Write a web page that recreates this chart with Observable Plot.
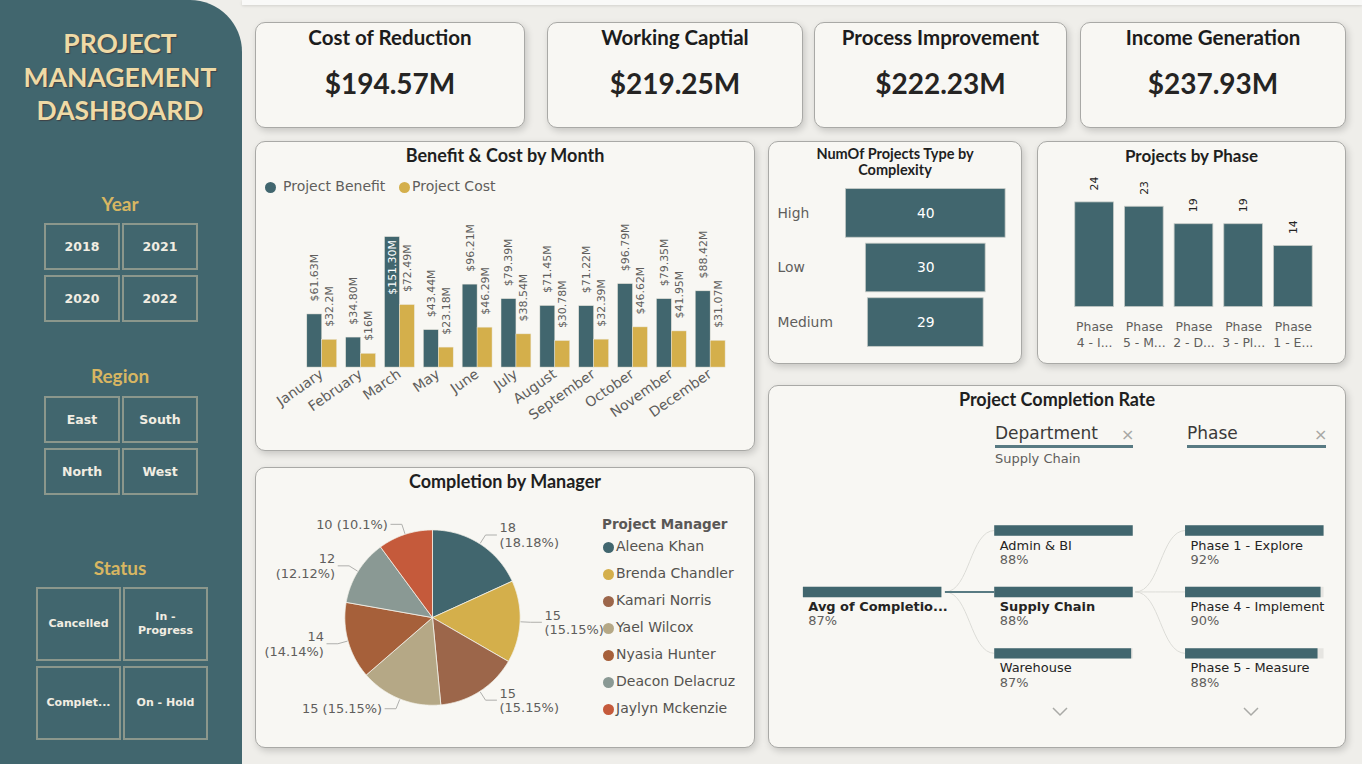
<!DOCTYPE html>
<html>
<head>
<meta charset="utf-8">
<script src="https://cdn.jsdelivr.net/npm/d3@7"></script>
<script src="https://cdn.jsdelivr.net/npm/@observablehq/plot@0.6"></script>
<style>
  body{margin:0;width:1362px;height:764px;overflow:hidden;background:#efeeea;position:relative;font-family:"DejaVu Sans",sans-serif;}
  .a{position:absolute;}
  #side{left:0;top:0;width:242px;height:764px;background:#41666e;border-top-right-radius:52px;}
  #topstrip{left:242px;top:0;width:1120px;height:5px;background:#f9f9f8;box-shadow:0 1px 3px rgba(0,0,0,.12);}
  #sideTitle{left:0;top:27px;width:240px;text-align:center;font-family:Lato,sans-serif;font-weight:700;font-size:26.5px;line-height:33.5px;color:#efdaa6;text-shadow:1px 1px 1px rgba(60,20,20,.45);}
  .head{width:240px;left:0;text-align:center;font-family:Lato,sans-serif;font-weight:700;font-size:19px;line-height:24px;color:#d8b662;}
  .btn{box-sizing:border-box;border:2px solid #8b978c;display:flex;align-items:center;justify-content:center;text-align:center;font-family:"DejaVu Sans",sans-serif;font-weight:700;color:#f1ede2;white-space:pre-line;}
  .card{position:absolute;box-sizing:border-box;background:#f8f7f3;border:1px solid #a9a9a6;border-radius:10px;box-shadow:2px 3px 7px rgba(0,0,0,.17);}
  .card svg{position:absolute;left:-1px;top:-1px;}
  .kt{position:absolute;left:0;right:0;text-align:center;font-family:Lato,sans-serif;font-weight:700;color:#1c1c1c;}
  .ct{position:absolute;left:0;right:0;text-align:center;font-family:Lato,sans-serif;font-weight:700;color:#1f1f1f;z-index:2;}
  .lg{font-family:"DejaVu Sans",sans-serif;font-size:14px;color:#605e5c;white-space:nowrap;}
  .dot{position:absolute;border-radius:50%;}
</style>
</head>
<body>
<div id="side" class="a"></div>
<div id="topstrip" class="a"></div>
<div id="sideTitle" class="a">PROJECT<br>MANAGEMENT<br>DASHBOARD</div>
<div id="root"></div>
<script>
// ---- slicer items ----
const years = ["2018", "2021", "2020", "2022"];
const regions = ["East", "South", "North", "West"];
const statuses = ["Cancelled", "In -\nProgress", "Complet...", "On - Hold"];

// ---- KPI cards ----
const kpiNames = ["Cost of Reduction", "Working Captial", "Process Improvement", "Income Generation"];
const kpiValues = [194.57, 219.25, 222.23, 237.93];

// ---- benefit & cost by month ($M) ----
const months = ["January", "February", "March", "May", "June", "July", "August", "September", "October", "November", "December"];
const projectBenefit = [61.63, 34.80, 151.30, 43.44, 96.21, 79.39, 71.45, 71.22, 96.79, 79.35, 88.42];
const projectCost = [32.2, 16, 72.49, 23.18, 46.29, 38.54, 30.78, 32.39, 46.62, 41.95, 31.07];
const seriesNames = ["Project Benefit", "Project Cost"];

// ---- projects by complexity ----
const complexityLevels = ["High", "Low", "Medium"];
const complexityCounts = [40, 30, 29];

// ---- projects by phase ----
const phaseTicks = ["Phase\n4 - I...", "Phase\n5 - M...", "Phase\n2 - D...", "Phase\n3 - Pl...", "Phase\n1 - E..."];
const phaseCounts = [24, 23, 19, 19, 14];

// ---- completion by manager ----
const managers = ["Aleena Khan", "Brenda Chandler", "Kamari Norris", "Yael Wilcox", "Nyasia Hunter", "Deacon Delacruz", "Jaylyn Mckenzie"];
const completions = [18, 15, 15, 15, 14, 12, 10];

// ---- completion rate tree (%) ----
const rootLabel = "Avg of Completio...";
const avgRate = 87;
const selectedDept = "Supply Chain";
const deptNames = ["Admin & BI", "Supply Chain", "Warehouse"];
const deptRates = [88, 88, 87];
const phaseNames = ["Phase 1 - Explore", "Phase 4 - Implement", "Phase 5 - Measure"];
const phaseRates = [92, 90, 88];

const teal = "#41666e", gold = "#d4af4b", grey = "#605e5c";
const managerColors = ["#41666e", "#d4af4b", "#9c664a", "#b5a886", "#a6603a", "#8a9994", "#c55a3b"];
const root = document.getElementById("root");

function el(tag, cls, css, html) {
  const e = document.createElement(tag);
  if (cls) e.className = cls;
  Object.assign(e.style, css || {});
  if (html != null) e.innerHTML = html;
  return e;
}

// ---- sidebar slicers ----
function slicer(title, items, headY, left, top, w, h, fs) {
  document.body.appendChild(el("div", "a head", {top: (headY - 12) + "px"}, title));
  items.forEach((t, i) => {
    const b = el("div", "a btn", {
      left: (left + (i % 2) * (w + 2)) + "px", top: (top + Math.floor(i / 2) * (h + 5)) + "px",
      width: w + "px", height: h + "px", fontSize: fs + "px", lineHeight: "14px"
    });
    b.textContent = t;
    document.body.appendChild(b);
  });
}
slicer("Year", years, 204, 44, 223, 76, 47, 12.5);
slicer("Region", regions, 376, 44, 396, 76, 47, 12.5);
slicer("Status", statuses, 568, 36, 587, 85, 74, 11);

// ---- KPI cards ----
const kpiBoxes = [[255, 270], [547, 256], [814, 253], [1080, 266]];
kpiNames.forEach((n, i) => {
  const c = el("div", "card", {left: kpiBoxes[i][0] + "px", top: "22px", width: kpiBoxes[i][1] + "px", height: "106px"});
  c.appendChild(el("div", "kt", {top: "2px", fontSize: "20.5px", lineHeight: "25px"}, n));
  c.appendChild(el("div", "kt", {top: "43px", fontSize: "28px", lineHeight: "34px", color: "#252423"}, "$" + kpiValues[i].toFixed(2) + "M"));
  root.appendChild(c);
});

function card(left, top, w, h) {
  const c = el("div", "card", {left: left + "px", top: top + "px", width: w + "px", height: h + "px"});
  root.appendChild(c);
  return c;
}

// ---- Benefit & Cost by Month ----
{
  const c = card(255, 141, 500, 310);
  c.appendChild(el("div", "ct", {top: "1px", fontSize: "18px", lineHeight: "25px"}, "Benefit &amp; Cost by Month"));
  c.appendChild(el("div", "dot", {left: "9px", top: "40px", width: "11px", height: "11px", background: teal}));
  c.appendChild(el("div", "a lg", {left: "27px", top: "36px"}, seriesNames[0]));
  c.appendChild(el("div", "dot", {left: "143px", top: "40px", width: "11px", height: "11px", background: gold}));
  c.appendChild(el("div", "a lg", {left: "156px", top: "36px"}, seriesNames[1]));

  const rows = months.flatMap((m, i) => [
    {month: m, series: seriesNames[0], value: projectBenefit[i], label: "$" + projectBenefit[i].toFixed(2) + "M"},
    {month: m, series: seriesNames[1], value: projectCost[i], label: "$" + projectCost[i] + "M"}
  ]);
  const yMax = d3.max(projectBenefit);
  const inside = d => d.value / yMax > 0.8;
  c.appendChild(Plot.plot({
    width: 500, height: 310, marginLeft: 42, marginRight: 18, marginTop: 96, marginBottom: 83,
    style: {background: "transparent", fontFamily: "DejaVu Sans", fontSize: "14px", color: grey, overflow: "visible"},
    fx: {domain: months, paddingInner: 0.2, paddingOuter: 0.2, label: null, axis: "bottom", tickRotate: -35, tickSize: 0, tickPadding: 5},
    x: {domain: seriesNames, padding: 0, axis: null},
    y: {domain: [0, yMax], axis: null},
    color: {domain: seriesNames, range: [teal, gold]},
    marks: [
      Plot.barY(rows, {fx: "month", x: "series", y: "value", fill: "series", stroke: "#e9e6dc", strokeWidth: 0.5}),
      Plot.text(rows.filter(d => !inside(d)), {fx: "month", x: "series", y: "value", text: "label", rotate: -90, textAnchor: "start", dy: -13, fill: grey, fontSize: 11}),
      Plot.text(rows.filter(inside), {fx: "month", x: "series", y: "value", text: "label", rotate: -90, textAnchor: "end", dy: 3, fill: "white", fontSize: 11})
    ]
  }));
}

// ---- NumOf Projects Type by Complexity ----
{
  const c = card(768, 141, 254, 223);
  c.appendChild(el("div", "ct", {top: "4px", fontSize: "14.5px", lineHeight: "16px"}, "NumOf Projects Type by<br>Complexity"));
  const rows = complexityLevels.map((l, i) => ({level: l, count: complexityCounts[i]}));
  c.appendChild(Plot.plot({
    width: 254, height: 223, marginLeft: 78, marginRight: 15, marginTop: 44, marginBottom: 12,
    style: {background: "transparent", fontFamily: "DejaVu Sans", fontSize: "14px", color: grey, overflow: "visible"},
    x: {domain: [-20, 20], axis: null},
    y: {domain: complexityLevels, paddingInner: 0.108, paddingOuter: 0.05, axis: null},
    marks: [
      Plot.barX(rows, {y: "level", x1: d => -d.count / 2, x2: d => d.count / 2, fill: teal, stroke: "#c6cbc7", strokeWidth: 0.8}),
      Plot.text(rows, {y: "level", x: 0, text: d => String(d.count), fill: "white", fontSize: 14}),
      Plot.text(rows, {y: "level", text: "level", frameAnchor: "left", textAnchor: "start", dx: -69, fill: grey, fontSize: 14})
    ]
  }));
}

// ---- Projects by Phase ----
{
  const c = card(1037, 141, 309, 223);
  c.appendChild(el("div", "ct", {top: "2px", fontSize: "17px", lineHeight: "24px"}, "Projects by Phase"));
  const rows = phaseTicks.map((p, i) => ({phase: p, count: phaseCounts[i]}));
  c.appendChild(Plot.plot({
    width: 309, height: 223, marginLeft: 23.7, marginRight: 18.6, marginTop: 61.3, marginBottom: 56.3,
    style: {background: "transparent", fontFamily: "DejaVu Sans", fontSize: "12.5px", color: grey, overflow: "visible"},
    x: {domain: phaseTicks, paddingInner: 0.23, paddingOuter: 0.23, axis: null},
    y: {domain: [0, d3.max(phaseCounts)], axis: null},
    marks: [
      Plot.barY(rows, {x: "phase", y: "count", fill: teal, stroke: "#c6cbc7", strokeWidth: 0.8}),
      Plot.text(rows, {x: "phase", y: "count", text: d => String(d.count), rotate: -90, textAnchor: "start", dy: -12, fill: "#252423", fontSize: 11}),
      Plot.text(rows, {x: "phase", y: 0, text: "phase", lineAnchor: "top", dy: 13, lineHeight: 1.28, fill: grey, fontSize: 12.5})
    ]
  }));
}

// ---- Completion by Manager (pie) ----
{
  const c = card(255, 467, 500, 281);
  c.appendChild(el("div", "ct", {top: "1px", fontSize: "18px", lineHeight: "25px"}, "Completion by Manager"));
  const total = d3.sum(completions);
  const arcs = d3.pie().sort(null).startAngle(0).endAngle(2 * Math.PI)(completions);
  const wedge = [];
  const labels = [];
  const leaders = [];
  arcs.forEach((a, i) => {
    const name = managers[i];
    wedge.push({name, x: 0, y: 0});
    const n = Math.max(2, Math.ceil((a.endAngle - a.startAngle) / 0.01));
    for (let k = 0; k <= n; k++) {
      const t = a.startAngle + (a.endAngle - a.startAngle) * k / n;
      wedge.push({name, x: Math.sin(t), y: Math.cos(t)});
    }
    wedge.push({name, x: 0, y: 0});
    const mid = (a.startAngle + a.endAngle) / 2;
    const s = Math.sin(mid), co = Math.cos(mid);
    const side = s >= 0 ? 1 : -1;
    const elbow = {x: 1.12 * s, y: 1.12 * co};
    const end = {x: elbow.x + side * 11 / 88, y: elbow.y};
    leaders.push({name, x: 1.01 * s, y: 1.01 * co}, {name, ...elbow}, {name, ...end});
    const pct = +(a.value / total * 100).toFixed(2);
    const text = Math.abs(s) < 0.45 ? `${a.value} (${pct}%)` : `${a.value}\n(${pct}%)`;
    labels.push({name, x: end.x, y: end.y, text, anchor: side > 0 ? "start" : "end"});
  });
  const cx = 177.7, cy = 150.7, r = 88;
  c.appendChild(Plot.plot({
    width: 500, height: 281, margin: 0,
    style: {background: "transparent", fontFamily: "DejaVu Sans", fontSize: "13px", color: grey, overflow: "visible"},
    x: {domain: [-1, 1], range: [cx - r, cx + r], axis: null},
    y: {domain: [-1, 1], range: [cy + r, cy - r], axis: null},
    color: {domain: managers, range: managerColors},
    marks: [
      Plot.line(wedge, {x: "x", y: "y", z: "name", fill: "name", stroke: "#f3f1ea", strokeWidth: 0.8, strokeLinejoin: "round"}),
      Plot.line(leaders, {x: "x", y: "y", z: "name", stroke: "#aeaeab", strokeWidth: 1}),
      Plot.text(labels.filter(d => d.anchor === "start"), {x: "x", y: "y", text: "text", textAnchor: "start", dx: 3, fill: grey, fontSize: 13, lineHeight: 1.15}),
      Plot.text(labels.filter(d => d.anchor === "end"), {x: "x", y: "y", text: "text", textAnchor: "end", dx: -3, fill: grey, fontSize: 13, lineHeight: 1.15})
    ]
  }));
  c.appendChild(el("div", "a", {left: "346px", top: "48px", fontFamily: "DejaVu Sans", fontWeight: "700", fontSize: "13.5px", color: "#5a5856"}, "Project Manager"));
  managers.forEach((m, i) => {
    const y = 79 + i * 27;
    c.appendChild(el("div", "dot", {left: "347px", top: (y - 5.5) + "px", width: "11px", height: "11px", background: managerColors[i]}));
    c.appendChild(el("div", "a lg", {left: "360px", top: (y - 9) + "px", color: "#55534f"}, m));
  });
}

// ---- Project Completion Rate (decomposition tree) ----
{
  const c = card(768, 385, 578, 363);
  c.appendChild(el("div", "ct", {top: "1px", fontSize: "18px", lineHeight: "25px"}, "Project Completion Rate"));
  const hdr = (x, w, t) => {
    c.appendChild(el("div", "a", {left: x + "px", top: "37px", fontFamily: "DejaVu Sans", fontSize: "17px", color: "#3b3a39"}, t));
    c.appendChild(el("div", "a", {left: (x + w - 12) + "px", top: "39px", fontFamily: "DejaVu Sans", fontSize: "16px", color: "#a7a7a4"}, "×"));
    c.appendChild(el("div", "a", {left: x + "px", top: "59px", width: w + "px", height: "2.5px", background: "#587a82"}));
  };
  hdr(226, 138, "Department");
  hdr(418, 139, "Phase");
  c.appendChild(el("div", "a", {left: "226px", top: "65px", fontFamily: "DejaVu Sans", fontSize: "13px", color: grey}, selectedDept));
  [292, 483].forEach(x => {
    const s = el("div", "a", {left: (x - 8) + "px", top: "322px"});
    s.innerHTML = '<svg width="16" height="10"><polyline points="1,1 8,8 15,1" fill="none" stroke="#a9aaa6" stroke-width="1.5"/></svg>';
    c.appendChild(s);
  });

  const levelX = [35, 227, 418.5], barW = 139;
  const levelMax = [avgRate, d3.max(deptRates), d3.max(phaseRates)];
  const nodes = [
    {level: 0, row: 1, name: rootLabel, rate: avgRate, bold: true},
    ...deptNames.map((n, i) => ({level: 1, row: i, name: n, rate: deptRates[i], bold: n === selectedDept})),
    ...phaseNames.map((n, i) => ({level: 2, row: i, name: n, rate: phaseRates[i], bold: false}))
  ];
  nodes.forEach(d => {
    d.x1 = levelX[d.level];
    d.track = d.x1 + barW;
    d.x2 = d.x1 + barW * d.rate / levelMax[d.level];
    d.pct = d.rate + "%";
  });
  const rootNode = nodes[0];
  const selNode = nodes.find(d => d.level === 1 && d.bold);
  const links = [
    ...nodes.filter(d => d.level === 1).map(d => ({x1: rootNode.track + 3, y1: rootNode.row, x2: d.x1, y2: d.row, on: d === selNode})),
    ...nodes.filter(d => d.level === 2).map(d => ({x1: selNode.track + 2, y1: selNode.row, x2: d.x1, y2: d.row, on: false}))
  ];
  c.appendChild(Plot.plot({
    width: 578, height: 363, margin: 0,
    style: {background: "transparent", fontFamily: "DejaVu Sans", fontSize: "13px", color: grey, overflow: "visible"},
    x: {domain: [0, 578], range: [0, 578], axis: null},
    y: {domain: [0, 2], range: [145.5, 268.8], axis: null},
    marks: [
      Plot.link(links.filter(d => !d.on), {x1: "x1", y1: "y1", x2: "x2", y2: "y2", curve: "bump-x", stroke: "#dcdcd7", strokeWidth: 1}),
      Plot.link(links.filter(d => d.on), {x1: "x1", y1: "y1", x2: "x2", y2: "y2", curve: "bump-x", stroke: "#587a82", strokeWidth: 2}),
      Plot.ruleY(nodes, {y: "row", x1: "x1", x2: "track", stroke: "#e6e5e1", strokeWidth: 10.5}),
      Plot.ruleY(nodes, {y: "row", x1: "x1", x2: "x2", stroke: teal, strokeWidth: 10.5}),
      Plot.text(nodes.filter(d => d.bold), {x: d => d.x1 + 5, y: "row", text: "name", dy: 15, textAnchor: "start", fill: "#252423", fontSize: 13, fontWeight: 700}),
      Plot.text(nodes.filter(d => !d.bold), {x: d => d.x1 + 5, y: "row", text: "name", dy: 15, textAnchor: "start", fill: "#252423", fontSize: 13}),
      Plot.text(nodes, {x: d => d.x1 + 5, y: "row", text: "pct", dy: 29.5, textAnchor: "start", fill: grey, fontSize: 13})
    ]
  }));
}
</script>
</body>
</html>
